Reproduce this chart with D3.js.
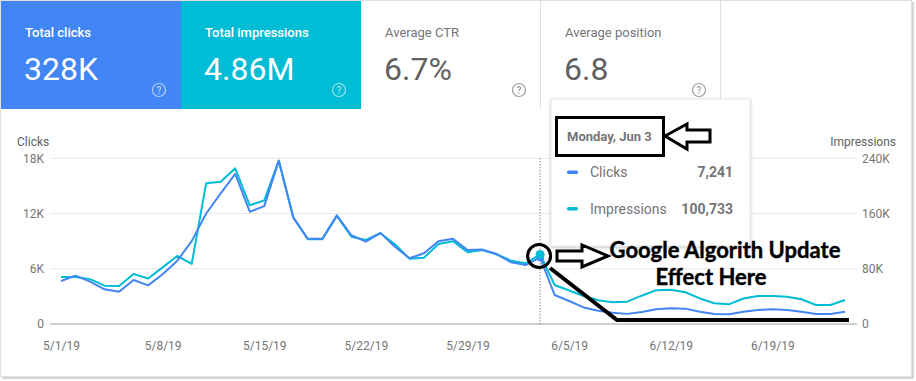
<!DOCTYPE html>
<html>
<head>
<meta charset="utf-8">
<script src="https://cdn.jsdelivr.net/npm/d3@7"></script>
<style>
  body { margin: 0; background: #fff; }
  svg { display: block; font-family: Roboto, "Noto Sans", sans-serif; }
</style>
</head>
<body>
<svg id="chart" width="916" height="381"></svg>
<script>
// daily data, 5/1/19 .. 6/24/19
const startDay = new Date(2019, 4, 1);
const endDay = new Date(2019, 5, 25);
const days = d3.timeDay.range(startDay, endDay);

const clicks = [
  4670, 5250, 4600, 3770, 3500, 4780, 4200, 5400, 6850, 9000,
  12000, 14200, 16300, 12200, 12800, 17750, 11550, 9250, 9250, 11800,
  9640, 8950, 9900, 8400, 7140, 7680, 9000, 9250, 8040, 8100,
  7600, 6700, 6400, 7241, 3150, 2500, 1800, 1450, 1230, 1100,
  1300, 1600, 1700, 1670, 1340, 1090, 1050, 1340, 1520, 1600,
  1520, 1340, 1090, 1090, 1340
];
const impressions = [
  68000, 68000, 65000, 55500, 55000, 72400, 66000, 82000, 98500, 87000,
  204000, 206000, 225500, 172000, 179000, 236500, 154500, 122700, 122700, 156400,
  126500, 121700, 131400, 115400, 94600, 96000, 116000, 120000, 104000, 107000,
  101000, 91700, 88000, 100733, 56500, 48500, 40500, 34500, 31500, 32300,
  41000, 49000, 49500, 46000, 37000, 30000, 28500, 37000, 40600, 40600,
  39600, 35800, 27500, 27500, 34800
];

const clickTicks = [0, 6000, 12000, 18000];
const imprTicks = [0, 80000, 160000, 240000];
const xTickDates = [
  new Date(2019, 4, 1), new Date(2019, 4, 8), new Date(2019, 4, 15), new Date(2019, 4, 22),
  new Date(2019, 4, 29), new Date(2019, 5, 5), new Date(2019, 5, 12), new Date(2019, 5, 19)
];

const cardTitles = ['Total clicks', 'Total impressions', 'Average CTR', 'Average position'];
const cardValues = ['328K', '4.86M', '6.7%', '6.8'];

const hoverIndex = 33; // Monday, Jun 3

const svg = d3.select('#chart');

// outer frame + shadow
svg.append('rect').attr('x', 2).attr('y', 2).attr('width', 912).attr('height', 377)
  .attr('fill', '#d6d6d6');
svg.append('rect').attr('x', 0.5).attr('y', 0.5).attr('width', 911).attr('height', 376)
  .attr('fill', '#fff').attr('stroke', '#e0e0e0');

// summary cards
const cardW = 180;
const cardFill = ['#4285f4', '#00bcd4', '#fff', '#fff'];
const card = svg.selectAll('g.card')
  .data(cardTitles)
  .enter()
  .append('g')
  .attr('class', 'card')
  .attr('transform', (d, i) => `translate(${1 + i * cardW},1)`);

card.append('rect')
  .attr('width', cardW).attr('height', 108)
  .attr('fill', (d, i) => cardFill[i]);

card.filter((d, i) => i >= 2).append('line')
  .attr('x1', cardW - 0.5).attr('x2', cardW - 0.5)
  .attr('y1', 0).attr('y2', 108)
  .attr('stroke', '#e0e0e0');

card.append('text')
  .attr('x', 24).attr('y', 36)
  .attr('font-size', 13)
  .attr('font-weight', (d, i) => i < 2 ? 500 : 400)
  .attr('fill', (d, i) => i < 2 ? '#fff' : '#757575')
  .text(d => d);

card.append('text')
  .attr('x', 23).attr('y', 79)
  .attr('font-size', 32)
  .attr('fill', (d, i) => i < 2 ? '#fff' : '#616161')
  .text((d, i) => cardValues[i]);

const help = card.append('g').attr('transform', `translate(158,89)`);
help.append('circle').attr('r', 6.5).attr('fill', 'none')
  .attr('stroke', (d, i) => i < 2 ? 'rgba(255,255,255,0.6)' : '#9e9e9e').attr('stroke-width', 1.2);
help.append('text').attr('text-anchor', 'middle').attr('y', 3.5)
  .attr('font-size', 10).attr('font-weight', 500)
  .attr('fill', (d, i) => i < 2 ? 'rgba(255,255,255,0.6)' : '#9e9e9e')
  .text('?');

// chart scales
const x = d3.scaleTime().domain([days[0], days[days.length - 1]]).range([61, 845]);
const yL = d3.scaleLinear().domain([0, 18000]).range([324, 158.3]);
const yR = d3.scaleLinear().domain([0, 240000]).range([324, 158.3]);

// gridlines
svg.append('g').selectAll('line')
  .data(clickTicks.slice(1))
  .enter()
  .append('line')
  .attr('x1', 50).attr('x2', 857)
  .attr('y1', d => yL(d)).attr('y2', d => yL(d))
  .attr('stroke', '#e8e8e8');

svg.append('line')
  .attr('x1', 50).attr('x2', 857)
  .attr('y1', yL(0)).attr('y2', yL(0))
  .attr('stroke', '#9e9e9e');

const fmtK = d => d === 0 ? '0' : (d / 1000) + 'K';

const leftAxis = svg.append('g')
  .attr('transform', 'translate(50,0)')
  .call(d3.axisLeft(yL).tickValues(clickTicks).tickFormat(fmtK).tickSize(0).tickPadding(6));
const rightAxis = svg.append('g')
  .attr('transform', 'translate(857,0)')
  .call(d3.axisRight(yR).tickValues(imprTicks).tickFormat(fmtK).tickSize(0).tickPadding(5));
const bottomAxis = svg.append('g')
  .attr('transform', `translate(0,${yL(0)})`)
  .call(d3.axisBottom(x).tickValues(xTickDates).tickFormat(d3.timeFormat('%-m/%-d/%y')).tickSize(0).tickPadding(17));

[leftAxis, rightAxis, bottomAxis].forEach(a => {
  a.select('.domain').remove();
  a.selectAll('text').attr('font-family', 'Roboto, sans-serif').attr('font-size', 12).attr('fill', '#757575');
});

svg.append('text').attr('x', 17).attr('y', 146)
  .attr('font-size', 12).attr('fill', '#616161').text('Clicks');
svg.append('text').attr('x', 896).attr('y', 146).attr('text-anchor', 'end')
  .attr('font-size', 12).attr('fill', '#616161').text('Impressions');

// hover guide
const hx = x(days[hoverIndex]);
svg.append('line')
  .attr('x1', hx).attr('x2', hx)
  .attr('y1', yL(18000)).attr('y2', yL(0))
  .attr('stroke', '#555').attr('stroke-dasharray', '1,2');

// lines
const imprLine = d3.line().x((d, i) => x(days[i])).y(d => yR(d));
const clickLine = d3.line().x((d, i) => x(days[i])).y(d => yL(d));

svg.append('path').datum(impressions)
  .attr('d', imprLine).attr('fill', 'none')
  .attr('stroke', '#00bcd4').attr('stroke-width', 2).attr('stroke-linejoin', 'round');
svg.append('path').datum(clicks)
  .attr('d', clickLine).attr('fill', 'none')
  .attr('stroke', '#4285f4').attr('stroke-width', 2).attr('stroke-linejoin', 'round');

svg.append('circle').attr('cx', hx).attr('cy', yL(clicks[hoverIndex])).attr('r', 4).attr('fill', '#4285f4');
svg.append('circle').attr('cx', hx).attr('cy', yR(impressions[hoverIndex])).attr('r', 4.5).attr('fill', '#00bcd4');

// tooltip
const defs = svg.append('defs');
const f = defs.append('filter').attr('id', 'shadow').attr('x', '-10%').attr('y', '-10%').attr('width', '130%').attr('height', '130%');
f.append('feDropShadow').attr('dx', 0).attr('dy', 1).attr('stdDeviation', 1.5).attr('flood-color', '#000').attr('flood-opacity', 0.25);

const tip = svg.append('g').attr('transform', 'translate(551,99)');
tip.append('rect').attr('width', 199).attr('height', 147)
  .attr('fill', '#fff').attr('stroke', '#e6e6e6').attr('filter', 'url(#shadow)');
tip.append('text').attr('x', 16).attr('y', 42)
  .attr('font-size', 13).attr('font-weight', 700).attr('fill', '#757575')
  .text(d3.timeFormat('%A, %b %-d')(days[hoverIndex]));

const tipRows = [
  { name: 'Clicks', value: clicks[hoverIndex], color: '#4285f4' },
  { name: 'Impressions', value: impressions[hoverIndex], color: '#00bcd4' }
];
const row = tip.selectAll('g.row').data(tipRows).enter().append('g')
  .attr('transform', (d, i) => `translate(0,${73 + i * 36.5})`);
row.append('rect').attr('x', 16).attr('y', -1.5).attr('width', 11).attr('height', 3.5).attr('rx', 1.5)
  .attr('fill', d => d.color);
row.append('text').attr('x', 39).attr('y', 5).attr('font-size', 14).attr('fill', '#757575').text(d => d.name);
row.append('text').attr('x', 182).attr('y', 5).attr('text-anchor', 'end')
  .attr('font-size', 14).attr('font-weight', 700).attr('fill', '#757575')
  .text(d => d3.format(',')(d.value));

// annotations
const ann = svg.append('g').attr('stroke', '#000').attr('stroke-width', 3).attr('fill', 'none');
ann.append('rect').attr('x', 556.5).attr('y', 117.5).attr('width', 107).attr('height', 38);
ann.append('path').attr('fill', '#fff').attr('stroke-linejoin', 'miter')
  .attr('d', 'M665,136 L687,124 L687,130 L710,130 L710,142 L687,142 L687,149 Z');

const py = yR(impressions[hoverIndex]) + 1.5;
ann.append('circle').attr('cx', hx - 1).attr('cy', py).attr('r', 11.5);
ann.append('path').attr('fill', '#fff').attr('stroke-linejoin', 'miter')
  .attr('d', `M557,${py - 5} L582,${py - 5} L582,${py - 11} L608,${py} L582,${py + 11} L582,${py + 5} L557,${py + 5} Z`);
ann.append('path').attr('stroke-width', 4)
  .attr('d', `M550,268 L617,320 L849,320`);

const note = svg.append('g').attr('font-family', 'Lato, "Open Sans", sans-serif')
  .attr('font-weight', 700).attr('font-size', 22).attr('fill', '#000').attr('text-anchor', 'middle')
  .attr('stroke', '#000').attr('stroke-width', 0.4);
note.append('text').attr('x', 725).attr('y', 258).text('Google Algorith Update');
note.append('text').attr('x', 711).attr('y', 285).text('Effect Here');
</script>
</body>
</html>
